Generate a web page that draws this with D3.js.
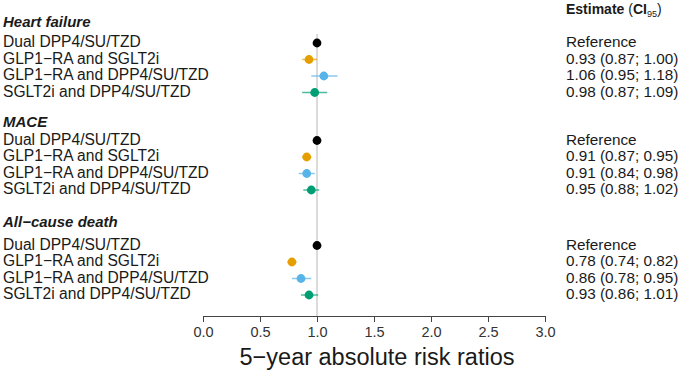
<!DOCTYPE html>
<html><head><meta charset="utf-8">
<script src="https://cdn.jsdelivr.net/npm/d3@7"></script>
<style>body{margin:0;background:#fff}svg{display:block}text{font-family:"Liberation Sans",Arial,sans-serif}</style>
</head><body><svg id="c" width="685" height="374"></svg>
<script>
const groups = ["Heart failure", "MACE", "All\u2212cause death"];
const comparisons = ["Dual DPP4/SU/TZD", "GLP1\u2212RA and SGLT2i", "GLP1\u2212RA and DPP4/SU/TZD", "SGLT2i and DPP4/SU/TZD"];
const estimates = [[1.00, 0.93, 1.06, 0.98], [1.00, 0.91, 0.91, 0.95], [1.00, 0.78, 0.86, 0.93]];
const lower = [[null, 0.87, 0.95, 0.87], [null, 0.87, 0.84, 0.88], [null, 0.74, 0.78, 0.86]];
const upper = [[null, 1.00, 1.18, 1.09], [null, 0.95, 0.98, 1.02], [null, 0.82, 0.95, 1.01]];
const xTicks = [0, 0.5, 1, 1.5, 2, 2.5, 3];
const colors = ["#000000", "#E69F00", "#56B4E9", "#009E73"];
const xTitle = "5\u2212year absolute risk ratios";

const svg = d3.select("#c");
const x = d3.scaleLinear().domain([0, 3]).range([203, 545]);
const groupY = d3.scaleOrdinal().domain(groups).range([43, 140.5, 245.5]);
const titleY = d3.scaleOrdinal().domain(groups).range([22, 122, 222]);
const rowY = d3.scaleLinear().domain([0, 1]).range([0, 16.5]);
const ink = "#1a1a1a";

// reference line
svg.append("line").attr("x1", x(1)).attr("x2", x(1)).attr("y1", 34).attr("y2", 316)
  .attr("stroke", "#c8c8c8").attr("stroke-width", 1.3);

// header
const hdr = svg.append("text").attr("x", 566).attr("y", 14).attr("font-size", 14).attr("fill", ink);
hdr.append("tspan").attr("font-weight", "bold").text("Estimate ");
hdr.append("tspan").text("(");
hdr.append("tspan").attr("font-weight", "bold").text("CI");
hdr.append("tspan").attr("font-size", 9).attr("dy", 3).text("95");
hdr.append("tspan").attr("dy", -3).text(")");

const fmt = d3.format(".2f");
groups.forEach((g, gi) => {
  const y0 = groupY(g);
  svg.append("text").attr("x", 3).attr("y", titleY(g)).attr("dy", "0.35em")
    .attr("font-size", 15).attr("font-weight", "bold").attr("font-style", "italic").attr("fill", ink).text(g);
  comparisons.forEach((c, i) => {
    const y = y0 + rowY(i);
    svg.append("text").attr("x", 3).attr("y", y - 1).attr("dy", "0.35em")
      .attr("font-size", 15.6).attr("fill", ink).text(c);
    const est = estimates[gi][i];
    const lo = lower[gi][i], hi = upper[gi][i];
    if (lo !== null) {
      svg.append("line").attr("x1", x(lo)).attr("x2", x(hi)).attr("y1", y).attr("y2", y)
        .attr("stroke", colors[i]).attr("stroke-opacity", 0.7).attr("stroke-width", 1.5);
    }
    svg.append("circle").attr("cx", x(est)).attr("cy", y).attr("r", 4.4).attr("fill", colors[i]);
    svg.append("text").attr("x", 566).attr("y", y - 1).attr("dy", "0.35em")
      .attr("font-size", 15.3).attr("fill", ink)
      .text(lo === null ? "Reference" : `${fmt(est)} (${fmt(lo)}; ${fmt(hi)})`);
  });
});

// axis
const axis = svg.append("g").attr("transform", "translate(0,316)")
  .call(d3.axisBottom(x).tickValues(xTicks).tickFormat(d3.format(".1f")).tickSizeOuter(0).tickSize(6).tickPadding(5));
axis.select(".domain").attr("stroke", "#444");
axis.selectAll(".tick line").attr("stroke", "#444");
axis.selectAll(".tick text").attr("font-size", 14.5).attr("fill", "#333").attr("font-family", "Liberation Sans, Arial, sans-serif");

svg.append("text").attr("x", 377).attr("y", 357).attr("dy", "0.35em").attr("text-anchor", "middle")
  .attr("font-size", 23.5).attr("fill", ink).text(xTitle);
</script></body></html>
